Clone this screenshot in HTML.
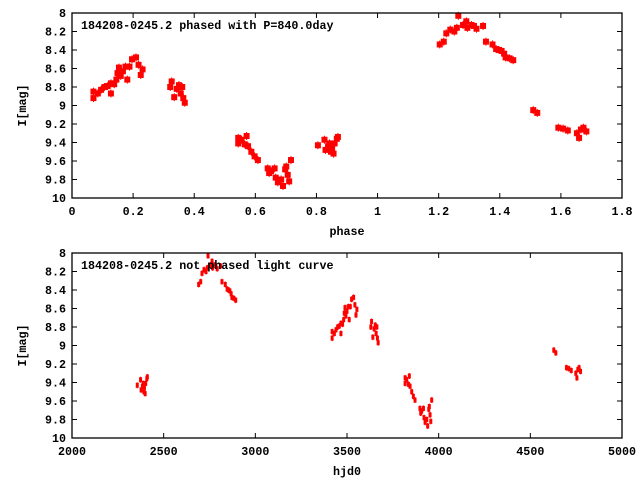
<!DOCTYPE html>
<html><head><meta charset="utf-8"><style>
html,body{margin:0;padding:0;background:#fff;}
svg{display:block;font-family:"Liberation Mono",monospace;font-weight:bold;font-size:11.7px;}
</style></head><body>
<svg id="chart" width="640" height="480" viewBox="0 0 640 480" xmlns="http://www.w3.org/2000/svg"></svg>
<script>
// Observation data (hjd0, I magnitude)
const hjd = [2356,2374,2377,2384,2392,2399,2402,2408,2411,2388,2395,
2691,2702,2709,2720,2731,2738,2742,2755,2764,2767,2778,2785,2792,2810,2818,2836,2846,2854,2861,2868,2872,2883,2893,
3419,3419,3431,3440,3449,3458,3467,3467,3476,3482,3485,3494,3500,3507,3512,3518,3525,3536,3543,3549,3554,3489,
3634,3630,3641,3648,3654,3659,3663,3666,3670,
3817,3817,3826,3835,3840,3844,3853,3862,3871,3898,3907,3917,3920,3926,3935,3940,3946,3949,3953,3957,3962,3902,
4628,4639,4697,4710,4723,4748,4754,4759,4766,4774];
const mag = [9.43,9.37,9.48,9.44,9.50,9.52,9.41,9.36,9.34,9.41,9.46,
8.34,8.31,8.22,8.18,8.20,8.16,8.03,8.13,8.09,8.16,8.13,8.14,8.17,8.14,8.31,8.34,8.39,8.40,8.41,8.44,8.48,8.49,8.51,
8.92,8.85,8.87,8.83,8.80,8.79,8.76,8.87,8.77,8.72,8.65,8.68,8.63,8.58,8.72,8.58,8.50,8.48,8.56,8.67,8.61,8.59,
8.74,8.80,8.91,8.82,8.78,8.87,8.80,8.92,8.97,
9.35,9.41,9.37,9.42,9.33,9.44,9.50,9.55,9.59,9.68,9.71,9.68,9.78,9.83,9.80,9.87,9.69,9.66,9.75,9.82,9.59,9.73,
9.05,9.08,9.24,9.25,9.27,9.30,9.35,9.26,9.24,9.28];
const period = 840.0;
const epoch = 1680;
const phaseTicks = ["0","0.2","0.4","0.6","0.8","1","1.2","1.4","1.6","1.8"];
const hjdTicks = ["2000","2500","3000","3500","4000","4500","5000"];
const magTicks = ["8","8.2","8.4","8.6","8.8","9","9.2","9.4","9.6","9.8","10"];

const svg = document.getElementById('chart');
const NS = 'http://www.w3.org/2000/svg';
function mk(tag, attrs, parent){const e=document.createElementNS(NS,tag);for(const k in attrs)e.setAttribute(k,attrs[k]);(parent||svg).appendChild(e);return e;}

function panel(o){
  const g = mk('g',{});
  
  
  const L=72,R=622,T=o.top,B=o.top+185;
  const xs=v=>L+(v-o.xmin)/(o.xmax-o.xmin)*(R-L);
  const ys=v=>T+(v-8)/2*(B-T);
  // ticks
  o.xt.forEach(t=>{const x=xs(parseFloat(t));
    const l1=mk('line',{x1:x,y1:B,x2:x,y2:B-5,stroke:'#000','stroke-width':1},g);
    
    
    mk('line',{x1:x,y1:T,x2:x,y2:T+5,stroke:'#000','stroke-width':1},g);
    const tx=mk('text',{x:x,y:B+17,'text-anchor':'middle'},g);tx.textContent=t;
    
    
  });
  magTicks.forEach(t=>{const y=ys(parseFloat(t));
    mk('line',{x1:L,y1:y,x2:L+5,y2:y,stroke:'#000','stroke-width':1},g);
    mk('line',{x1:R,y1:y,x2:R-5,y2:y,stroke:'#000','stroke-width':1},g);
    const tx=mk('text',{x:66,y:y+4,'text-anchor':'end'},g);tx.textContent=t;
    
    
  });
  // points
  hjd.forEach((h,i)=>{
    const xv=o.xval(h);const x=xs(xv),y=ys(mag[i]);
    const p=mk('g',{},g);
    
    
    mk('line',{x1:x,y1:y-o.eb,x2:x,y2:y+o.eb,stroke:'#f00','stroke-width':1},p);
    mk('rect',{x:x-o.w/2,y:y-o.h/2,width:o.w,height:o.h,fill:'#f00'},p);
  });
  const fr=mk('rect',{x:L,y:T,width:R-L,height:B-T,fill:'none',stroke:'#000','stroke-width':1.3},g);
  
  
  const ti=mk('text',{x:81,y:T+16},g);ti.textContent=o.title;
  
  
  const xl=mk('text',{x:347,y:B+37,'text-anchor':'middle'},g);xl.textContent=o.xlabel;
  
  
  const yl=mk('text',{x:0,y:0,'text-anchor':'middle',transform:`translate(26,${(T+B)/2}) rotate(-90)`},g);yl.textContent='I[mag]';
  
  
}
panel({name:'phased-panel',top:13,xmin:0,xmax:1.8,xt:phaseTicks,xlabel:'phase',
  title:'184208-0245.2 phased with P='+period.toFixed(1)+'day',
  xval:h=>{let p=(h-epoch)/period;return p>=2?p-2:p;},w:6,h:6,eb:4});
panel({name:'raw-panel',top:253,xmin:2000,xmax:5000,xt:hjdTicks,xlabel:'hjd0',
  title:'184208-0245.2 not phased light curve',xval:h=>h,w:3,h:5,eb:3});
</script>
</body></html>
